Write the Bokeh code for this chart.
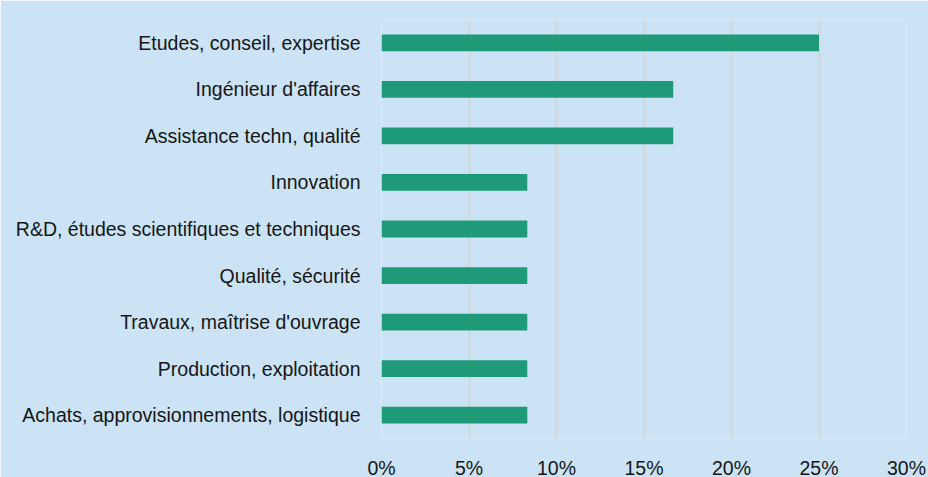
from bokeh.plotting import figure
from bokeh.models import FactorRange, Range1d, NumeralTickFormatter, FixedTicker, ColumnDataSource
from bokeh.embed import file_html
from bokeh.resources import INLINE

categories = [
    "Etudes, conseil, expertise",
    "Ingénieur d'affaires",
    "Assistance techn, qualité",
    "Innovation",
    "R&D, études scientifiques et techniques",
    "Qualité, sécurité",
    "Travaux, maîtrise d'ouvrage",
    "Production, exploitation",
    "Achats, approvisionnements, logistique",
]
values = [0.25, 0.1667, 0.1667, 0.0833, 0.0833, 0.0833, 0.0833, 0.0833, 0.0833]
tick_values = [0, 0.05, 0.10, 0.15, 0.20, 0.25, 0.30]

BG = "#cbe3f5"
BAR = "#1e9a78"
FONT = "Liberation Sans"

src = ColumnDataSource(dict(cat=categories, val=values))

p = figure(
    width=928, height=477,
    frame_width=525, frame_height=419,
    y_range=FactorRange(*list(reversed(categories)), range_padding=0),
    x_range=Range1d(0, 0.30),
    output_backend="svg", toolbar_location=None,
    min_border_left=381, min_border_right=22, min_border_top=19, min_border_bottom=39,
)
p.background_fill_color = BG
p.border_fill_color = BG
p.outline_line_color = None

p.hbar(y="cat", right="val", left=0, height=0.36, source=src,
       fill_color=BAR, line_color=None)

p.xaxis.ticker = FixedTicker(ticks=tick_values)
p.xaxis.formatter = NumeralTickFormatter(format="0%")
for ax in (p.xaxis, p.yaxis):
    ax.axis_line_color = None
    ax.major_tick_line_color = None
    ax.minor_tick_line_color = None
    ax.major_label_text_font = FONT
    ax.major_label_text_font_size = "19.5px"
    ax.major_label_text_color = "#161616"
p.xaxis.major_label_standoff = 12
p.yaxis.major_label_standoff = 15

p.xgrid.grid_line_color = "#d3d6d9"
p.xgrid.grid_line_width = 2
p.ygrid.grid_line_color = None

html = file_html(p, INLINE)
html = html.replace("<body>", "<body style=\"background:%s;\">" % BG, 1)
open("out.html", "w").write(html)
